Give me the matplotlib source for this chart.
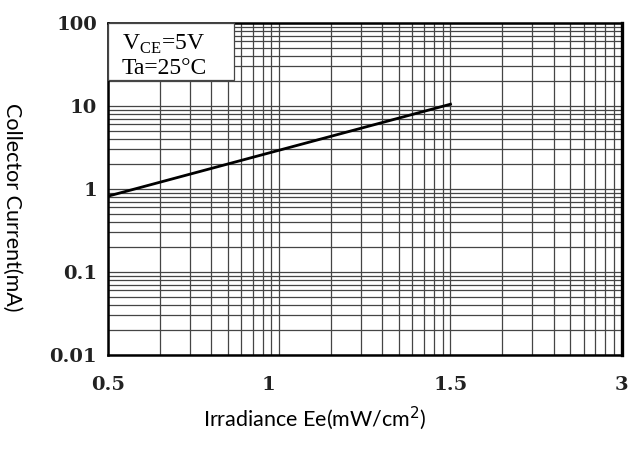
import matplotlib.pyplot as plt
import matplotlib.transforms as mtransforms
import numpy as np
from matplotlib.patches import Rectangle

# x axis is drawn as three equal "decades": 0.5 | 1 | 1.5 | 3
x_ticks = [0.5, 1, 1.5, 3]
x_labels = ["0.5", "1", "1.5", "3"]
y_ticks = [0.01, 0.1, 1, 10, 100]
y_labels = ["0.01", "0.1", "1", "10", "100"]

# Collector current vs irradiance
irradiance = [0.5, 1.5]
current = [0.82, 10.5]


def seg(x):
    # map irradiance onto the segment axis
    return np.interp(x, x_ticks, np.arange(len(x_ticks)))


fig = plt.figure(figsize=(6.28, 4.5), dpi=100)
ax = fig.add_axes([0.172, 0.211, 0.818, 0.738])

ax.set_yscale('log')
ax.set_ylim(0.01, 100)
ax.set_xlim(0, 3)

serif = ['DejaVu Serif']
ax.set_xticks(seg(x_ticks))
ax.set_xticklabels(x_labels, fontfamily=serif, fontsize=14, fontweight='bold', color='#222222')
minor_x = [k + np.log10(m) for k in range(3) for m in range(2, 10)]
ax.set_xticks(minor_x, minor=True)
ax.set_yticks(y_ticks)
ax.set_yticklabels(y_labels, fontfamily=serif, fontsize=14, fontweight='bold', color='#222222')
ax.tick_params(which='both', length=0)
ax.tick_params(axis='x', pad=15)
ax.tick_params(axis='y', pad=8)

# the "1" label sits a little left of its grid line in the original
lab = ax.get_xticklabels()[1]
lab.set_transform(lab.get_transform() + mtransforms.ScaledTranslation(-8 / 72, 0, fig.dpi_scale_trans))

ax.grid(which='both', color='#454545', linewidth=0.9)
ax.set_axisbelow(True)
for s in ax.spines.values():
    s.set_linewidth(1.8)
    s.set_color('black')
ax.spines['right'].set_linewidth(2.4)

ax.plot(seg(irradiance), current, color='black', linewidth=2, zorder=5)

# condition box
box_font = ['Liberation Serif', 'DejaVu Serif']
ax.add_patch(Rectangle((0, 0.828), 0.245, 0.172, transform=ax.transAxes,
                       facecolor='white', edgecolor='#454545', linewidth=0.9, zorder=3))
ax.text(0.027, 0.935, r"V$_\mathregular{CE}$=5V", transform=ax.transAxes,
        fontfamily=box_font, fontsize=17, va='center', zorder=4)
ax.text(0.027, 0.862, "Ta=25°C", transform=ax.transAxes,
        fontfamily=box_font, fontsize=17, va='center', zorder=4)

fig.text(0.02, 0.54, "Collector Current(mA)", rotation=270, fontfamily='Lato',
         fontsize=15.5, ha='center', va='center')
fig.text(0.502, 0.071, "Irradiance Ee(mW/cm$^2$)", fontfamily='Lato',
         fontsize=15.5, ha='center', va='center')

fig.savefig('out.png', dpi=100)
